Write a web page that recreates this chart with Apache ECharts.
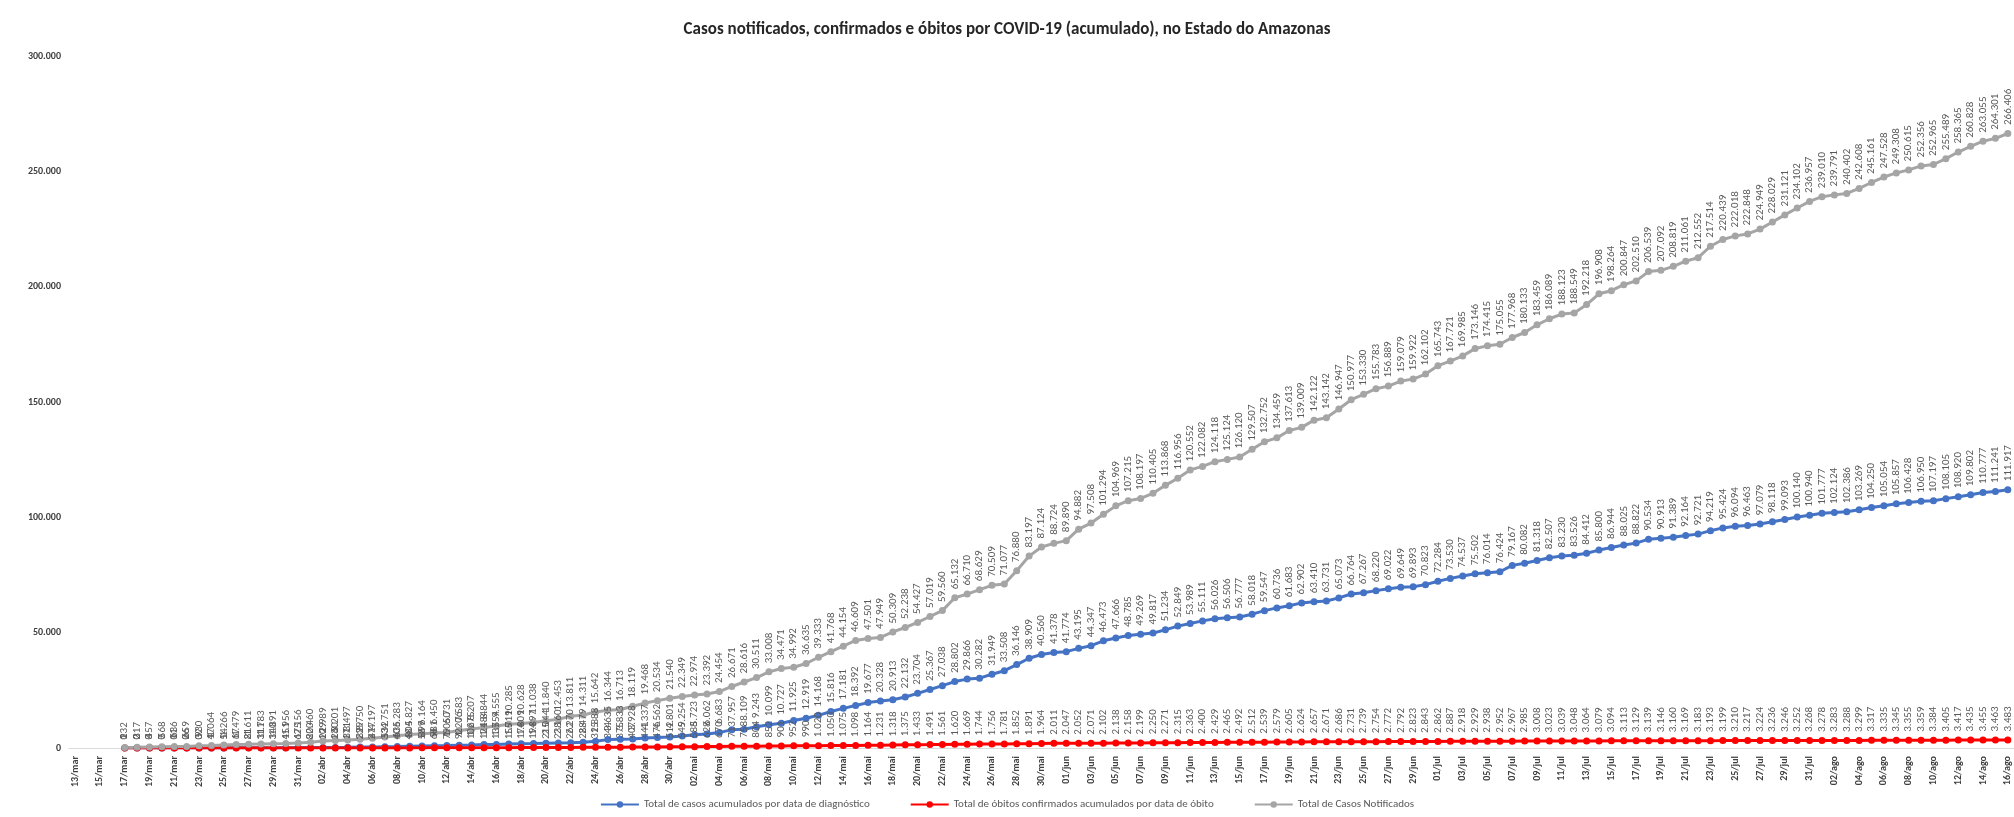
<!DOCTYPE html>
<html><head><meta charset="utf-8">
<script src="https://cdn.jsdelivr.net/npm/echarts@6/dist/echarts.min.js"></script>
<style>html,body{margin:0;padding:0;background:#fff}#c{width:2014px;height:817px}</style>
</head><body><div id="c"></div>
<script>
const dates = [
'13/mar','14/mar','15/mar','16/mar','17/mar','18/mar','19/mar','20/mar','21/mar','22/mar','23/mar','24/mar','25/mar','26/mar','27/mar','28/mar','29/mar','30/mar','31/mar',
'01/abr','02/abr','03/abr','04/abr','05/abr','06/abr','07/abr','08/abr','09/abr','10/abr','11/abr','12/abr','13/abr','14/abr','15/abr','16/abr','17/abr','18/abr','19/abr','20/abr','21/abr','22/abr','23/abr','24/abr','25/abr','26/abr','27/abr','28/abr','29/abr','30/abr',
'01/mai','02/mai','03/mai','04/mai','05/mai','06/mai','07/mai','08/mai','09/mai','10/mai','11/mai','12/mai','13/mai','14/mai','15/mai','16/mai','17/mai','18/mai','19/mai','20/mai','21/mai','22/mai','23/mai','24/mai','25/mai','26/mai','27/mai','28/mai','29/mai','30/mai','31/mai',
'01/jun','02/jun','03/jun','04/jun','05/jun','06/jun','07/jun','08/jun','09/jun','10/jun','11/jun','12/jun','13/jun','14/jun','15/jun','16/jun','17/jun','18/jun','19/jun','20/jun','21/jun','22/jun','23/jun','24/jun','25/jun','26/jun','27/jun','28/jun','29/jun','30/jun',
'01/jul','02/jul','03/jul','04/jul','05/jul','06/jul','07/jul','08/jul','09/jul','10/jul','11/jul','12/jul','13/jul','14/jul','15/jul','16/jul','17/jul','18/jul','19/jul','20/jul','21/jul','22/jul','23/jul','24/jul','25/jul','26/jul','27/jul','28/jul','29/jul','30/jul','31/jul',
'01/ago','02/ago','03/ago','04/ago','05/ago','06/ago','07/ago','08/ago','09/ago','10/ago','11/ago','12/ago','13/ago','14/ago','15/ago','16/ago'
];

// Total de casos acumulados por data de diagnóstico (one row per month)
const casosDiagnostico = [
null,null,null,null,1,2,3,7,11,26,32,47,54,67,81,111,140,151,175,
200,229,260,311,399,417,532,636,804,899,981,1050,1206,1275,1484,1554,1719,1809,1897,2044,2160,2270,2479,2888,3635,3833,3928,4337,4562,4801,
5254,5723,6062,6683,7957,8109,9243,10099,10727,11925,12919,14168,15816,17181,18392,19677,20328,20913,22132,23704,25367,27038,28802,29866,30282,31949,33508,36146,38909,40560,41378,
41774,43195,44347,46473,47666,48785,49269,49817,51234,52849,53989,55111,56026,56506,56777,58018,59547,60736,61683,62902,63410,63731,65073,66764,67267,68220,69022,69649,69893,70823,
72284,73530,74537,75502,76014,76424,79167,80082,81318,82507,83230,83526,84412,85800,86944,88025,88822,90534,90913,91389,92164,92721,94219,95424,96094,96463,97079,98118,99093,100140,100940,
101777,102124,102386,103269,104250,105054,105857,106428,106950,107197,108105,108920,109802,110777,111241,111917
];

// Total de óbitos confirmados acumulados por data de óbito (one row per month)
const obitos = [
null,null,null,null,0,0,0,0,0,0,0,1,1,1,2,3,3,4,6,
8,10,13,17,22,27,33,40,48,58,68,79,92,106,121,137,155,174,194,215,238,262,288,315,344,375,407,441,476,512,
549,588,628,670,713,758,804,852,901,952,990,1020,1050,1075,1098,1164,1231,1318,1375,1433,1491,1561,1620,1669,1744,1756,1781,1852,1891,1964,2011,
2047,2052,2071,2102,2138,2158,2199,2250,2271,2315,2363,2400,2429,2465,2492,2512,2539,2579,2605,2624,2657,2671,2686,2731,2739,2754,2772,2792,2823,2843,
2862,2887,2918,2929,2938,2952,2967,2985,3008,3023,3039,3048,3064,3079,3094,3113,3129,3139,3146,3160,3169,3183,3193,3199,3210,3217,3224,3236,3246,3252,3268,
3278,3283,3288,3299,3317,3335,3345,3355,3359,3384,3405,3417,3435,3455,3463,3483
];

// Total de Casos Notificados (one row per month)
const notificados = [
null,null,null,null,232,317,457,568,636,659,930,1064,1266,1479,1611,1783,1891,1956,2156,
2460,2989,3201,3497,3750,4197,4751,5283,5827,6164,6450,6731,7583,8207,8844,9555,10285,10628,11038,11840,12453,13811,14311,15642,16344,16713,18119,19468,20534,21540,
22349,22974,23392,24454,26671,28616,30511,33008,34471,34992,36635,39333,41768,44154,46609,47501,47949,50309,52238,54427,57019,59560,65132,66710,68629,70509,71077,76880,83197,87124,88724,
89890,94882,97508,101294,104969,107215,108197,110405,113868,116956,120552,122082,124118,125124,126120,129507,132752,134459,137613,139009,142122,143142,146947,150977,153330,155783,156889,159079,159922,162102,
165743,167721,169985,173146,174415,175055,177968,180133,183459,186089,188123,188549,192218,196908,198264,200847,202510,206539,207092,208819,211061,212552,217514,220439,222018,222848,224949,228029,231121,234102,236957,
239010,239791,240402,242608,245161,247528,249308,250615,252356,252965,255489,258365,260828,263055,264301,266406
];

const yTicks = [0,50000,100000,150000,200000,250000,300000];

const fmt = v => String(v).replace(/\B(?=(\d{3})+(?!\d))/g, '.');
const FONT = "Carlito, 'Liberation Sans', Arial, sans-serif";

function mk(name, data, color) {
  return {
    name, type: 'line', data,
    symbol: 'circle', symbolSize: 7,
    lineStyle: { width: 3, color },
    itemStyle: { color },
    animation: false,
    label: {
      show: true, position: 'top', rotate: 90, align: 'left', verticalAlign: 'middle',
      distance: 5, color: '#595959', fontSize: 11, fontFamily: FONT,
      formatter: p => fmt(p.value)
    }
  };
}

const chart = echarts.init(document.getElementById('c'));
chart.setOption({
  animation: false,
  backgroundColor: '#fff',
  title: {
    text: 'Casos notificados, confirmados e óbitos por COVID-19 (acumulado), no Estado do Amazonas',
    left: 'center', top: 16,
    textStyle: { fontFamily: FONT, fontSize: 17, fontWeight: 'bold', color: '#262626' }
  },
  legend: {
    bottom: 2, left: 'center', itemWidth: 38, itemHeight: 8, itemGap: 40,
    textStyle: { fontFamily: FONT, fontSize: 11, color: '#595959' }
  },
  grid: { left: 69, right: -3, top: 56, bottom: 69, containLabel: false },
  xAxis: {
    type: 'category', data: dates, boundaryGap: true,
    axisLine: { lineStyle: { color: '#d9d9d9' } },
    axisTick: { show: false },
    axisLabel: { rotate: 90, interval: 1, fontSize: 10, fontWeight: 'bold', color: '#404040', fontFamily: FONT }
  },
  yAxis: {
    type: 'value', min: yTicks[0], max: yTicks[yTicks.length - 1], interval: 50000,
    splitLine: { show: false }, axisLine: { show: false }, axisTick: { show: false },
    axisLabel: { fontSize: 10, fontWeight: 'bold', color: '#404040', fontFamily: FONT, formatter: v => fmt(v) }
  },
  series: [
    mk('Total de casos acumulados por data de diagnóstico', casosDiagnostico, '#4472C4'),
    mk('Total de óbitos confirmados acumulados por data de óbito', obitos, '#FF0000'),
    mk('Total de Casos Notificados', notificados, '#A5A5A5')
  ]
});
</script>
</body></html>
